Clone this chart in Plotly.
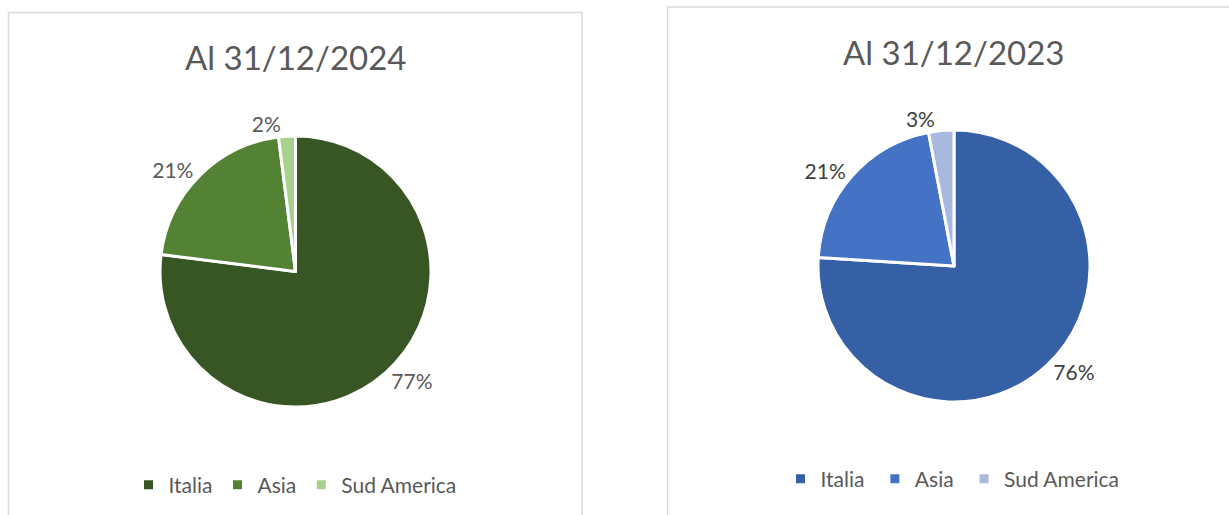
import plotly.graph_objects as go

regioni = ["Italia", "Asia", "Sud America"]
quote_2024 = [77, 21, 2]
quote_2023 = [76, 21, 3]

colori_2024 = ["#375623", "#548235", "#A9D18E"]
colori_2023 = ["#3560A5", "#4472C4", "#A9B8DE"]

W, H = 1229, 515
FONT = "Lato"


def px_x(v):
    return v / W


def px_y(v):
    return 1 - v / H


fig = go.Figure()

fig.add_trace(go.Pie(
    labels=regioni,
    values=quote_2024,
    sort=False,
    direction="clockwise",
    rotation=0,
    marker=dict(colors=colori_2024, line=dict(color="white", width=3)),
    texttemplate="%{value}%",
    textposition="outside",
    textfont=dict(size=21, color="#595959", family=FONT),
    domain=dict(x=[px_x(160), px_x(431)], y=[px_y(407), px_y(136)]),
    legend="legend",
    hoverinfo="label+percent",
))

# etichette distinte (spazio finale) per avere una seconda legenda
fig.add_trace(go.Pie(
    labels=[r + " " for r in regioni],
    values=quote_2023,
    sort=False,
    direction="clockwise",
    rotation=0,
    marker=dict(colors=colori_2023, line=dict(color="white", width=3)),
    texttemplate="%{value}%",
    textposition="outside",
    textfont=dict(size=21, color="#404040", family=FONT),
    domain=dict(x=[px_x(818), px_x(1090)], y=[px_y(402), px_y(130)]),
    legend="legend2",
    hoverinfo="label+percent",
))

# cornici dei due pannelli
fig.add_shape(type="rect", xref="paper", yref="paper",
              x0=px_x(8.5), x1=px_x(582), y0=px_y(530), y1=px_y(12.5),
              line=dict(color="#D9D9D9", width=1.5), fillcolor="rgba(0,0,0,0)")
fig.add_shape(type="rect", xref="paper", yref="paper",
              x0=px_x(667.5), x1=px_x(1245), y0=px_y(530), y1=px_y(7),
              line=dict(color="#D9D9D9", width=1.5), fillcolor="rgba(0,0,0,0)")

fig.add_annotation(text="Al 31/12/2024", x=px_x(295), y=px_y(57),
                   xref="paper", yref="paper", showarrow=False,
                   xanchor="center", yanchor="middle",
                   font=dict(size=33, color="#595959", family=FONT))
fig.add_annotation(text="Al 31/12/2023", x=px_x(953), y=px_y(52),
                   xref="paper", yref="paper", showarrow=False,
                   xanchor="center", yanchor="middle",
                   font=dict(size=33, color="#595959", family=FONT))

legend_style = dict(orientation="h", xanchor="center", yanchor="middle",
                    font=dict(size=21, color="#595959", family=FONT),
                    bgcolor="rgba(0,0,0,0)", itemwidth=30, traceorder="normal")

fig.update_layout(
    width=W, height=H,
    margin=dict(l=0, r=0, t=0, b=0),
    paper_bgcolor="white",
    plot_bgcolor="white",
    legend=dict(x=px_x(295), y=px_y(485), **legend_style),
    legend2=dict(x=px_x(955), y=px_y(479), **legend_style),
)

# niente margine del body: il grafico parte dall'angolo della pagina
fig.write_html("out.html", config={"displayModeBar": False},
               post_script="document.body.style.margin='0px';")
